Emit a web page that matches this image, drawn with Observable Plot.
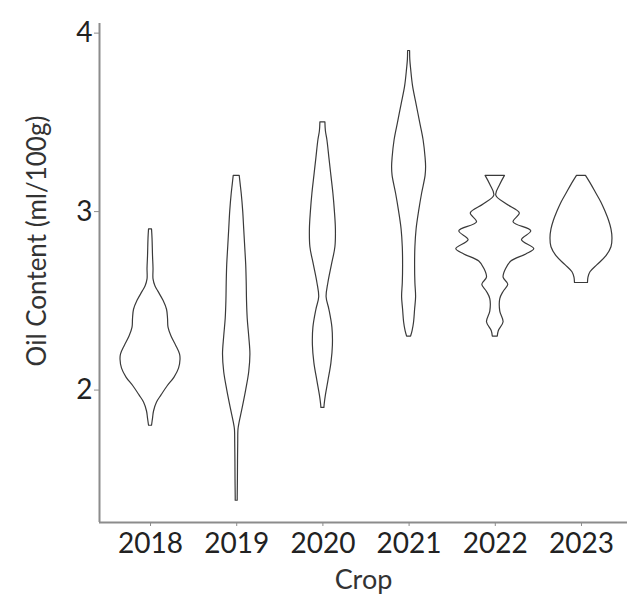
<!DOCTYPE html>
<html>
<head>
<meta charset="utf-8">
<script src="https://cdn.jsdelivr.net/npm/d3@7"></script>
<script src="https://cdn.jsdelivr.net/npm/@observablehq/plot@0.6"></script>
<style>
  html, body { margin: 0; padding: 0; background: #fff; }
  #chart svg { display: block; }
</style>
</head>
<body>
<div id="chart"></div>
<script>
// ---- data ----
const crops = ["2018", "2019", "2020", "2021", "2022", "2023"];
const yTicks = [2, 3, 4];

// oil content levels (ml/100g) and violin half-widths (density) per crop
const oil2018 = [1.80,1.84,1.88,1.93,1.97,2.02,2.07,2.12,2.17,2.20,2.25,2.30,2.35,2.40,2.45,2.50,2.55,2.58,2.62,2.68,2.75,2.85,2.90];
const den2018 = [1.5,2.5,3.5,6.5,11,17,24,28.5,30,29.5,25.5,21,18,17.5,16.5,13,8,5,3,3,2.5,2,1.5];

const oil2019 = [1.38,1.40,1.50,1.60,1.70,1.78,1.82,1.90,2.00,2.10,2.20,2.30,2.40,2.50,2.60,2.70,2.80,2.90,3.00,3.10,3.15,3.20];
const den2019 = [1,1,1.2,1.3,1.5,1.8,3,6,9.5,12.5,13.7,12.5,11,10.3,10,9.5,8.5,7.5,6.5,5,4,3];

const oil2020 = [1.90,1.92,1.97,2.05,2.15,2.25,2.35,2.45,2.52,2.60,2.70,2.80,2.90,3.00,3.10,3.20,3.30,3.40,3.45,3.50];
const den2020 = [1.5,1.8,3,5.5,8.5,10,9.5,6.5,3.7,5.5,9,12.5,13,12,10.5,8.5,6.5,4.5,3,2.5];

const oil2021 = [2.30,2.33,2.38,2.45,2.52,2.60,2.70,2.80,2.90,3.00,3.10,3.20,3.25,3.30,3.40,3.50,3.60,3.70,3.80,3.85,3.90];
const den2021 = [2,3.5,5,6,7,6.3,6,6.3,7.5,10,13,16.5,17,16.5,14.5,11,7.5,4,2,1.2,1];

const oil2022 = [2.30,2.33,2.38,2.44,2.51,2.55,2.59,2.63,2.68,2.72,2.76,2.79,2.84,2.89,2.94,2.99,3.04,3.09,3.15,3.20];
const den2022 = [2.5,3.5,8.3,5,5,8.3,13,8.3,11,16,31,39,26.7,36,18.3,24.5,11.7,1,5,9.7];

const oil2023 = [2.60,2.63,2.66,2.70,2.75,2.80,2.85,2.90,2.95,3.00,3.05,3.10,3.15,3.20];
const den2023 = [6.5,7,9,16,25,30,31,30,27.5,24,20,15,10,4.5];

const oilByCrop = [oil2018, oil2019, oil2020, oil2021, oil2022, oil2023];
const denByCrop = [den2018, den2019, den2020, den2021, den2022, den2023];

// ---- layout constants ----
const widthScale = 1 / 86.2;          // density units -> crop-slot units
const xDomain = [-0.592, 5.534];
const yDomain = [1.258, 4.054];

// tidy table built from the arrays
const rows = crops.flatMap((crop, i) =>
  oilByCrop[i].map((v, j) => ({crop, index: i, oil: v, density: denByCrop[i][j]}))
);

const font = "Lato, 'Open Sans', sans-serif";

const chart = Plot.plot({
  width: 627,
  height: 596,
  marginLeft: 99,
  marginRight: 0,
  marginTop: 23,
  marginBottom: 74,
  style: {fontFamily: font, fontSize: "28px", color: "#222", background: "#fff"},
  x: {domain: xDomain, axis: null},
  y: {domain: yDomain, axis: null},
  marks: [
    Plot.areaX(rows, {
      y: "oil",
      x1: d => d.index - d.density * widthScale,
      x2: d => d.index + d.density * widthScale,
      z: "crop",
      curve: "catmull-rom",
      fill: "none",
      stroke: "#3a3a3a",
      strokeWidth: 1.2
    }),
    Plot.ruleY([yDomain[0]], {stroke: "#8c8c8c", strokeWidth: 2}),
    Plot.ruleX([xDomain[0]], {stroke: "#8c8c8c", strokeWidth: 2}),
    Plot.axisY({ticks: yTicks, tickFormat: d => String(d), tickSize: 5, tickPadding: 2, stroke: "#8c8c8c", label: null, fill: "#222"}),
    Plot.axisX({
      ticks: d3.range(crops.length),
      tickFormat: i => crops[i],
      tickSize: 4,
      tickPadding: 7,
      stroke: "#8c8c8c",
      label: null,
      fill: "#222"
    }),
    Plot.text(["Oil Content (ml/100g)"], {
      frameAnchor: "left", textAnchor: "middle", rotate: -90, dx: -62, dy: -32, fill: "#333", fontSize: 26
    }),
    Plot.text(["Crop"], {
      frameAnchor: "bottom", dy: 66, fill: "#333", fontSize: 27
    })
  ]
});

document.getElementById("chart").appendChild(chart);
</script>
</body>
</html>
